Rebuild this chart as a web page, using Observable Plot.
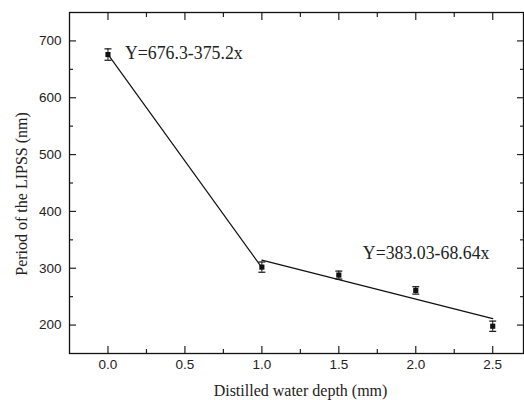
<!DOCTYPE html>
<html>
<head>
<meta charset="utf-8">
<script src="https://cdn.jsdelivr.net/npm/d3@7"></script>
<script src="https://cdn.jsdelivr.net/npm/@observablehq/plot@0.6"></script>
<style>
  html, body { margin: 0; padding: 0; background: #fff; }
</style>
</head>
<body>
<div id="chart"></div>
<script>
// Data
const depth = [0.0, 1.0, 1.5, 2.0, 2.5];
const period = [676, 302, 288, 261, 198];
const periodErr = [10, 9, 7, 6.5, 9];

// Fit lines (coefficients as printed on the chart)
const fit1 = {a: 676.3, b: -375.2, x0: 0, x1: 1};
const fit2 = {a: 383.03, b: -68.64, x0: 1, x1: 2.5};
const fit1Label = "Y=676.3-375.2x";
const fit2Label = "Y=383.03-68.64x";

const xMajor = [0, 0.5, 1, 1.5, 2, 2.5];
const xMinor = [0.25, 0.75, 1.25, 1.75, 2.25];
const yMajor = [200, 300, 400, 500, 600, 700];
const yMinor = [250, 350, 450, 550, 650];

const xLabel = "Distilled water depth (mm)";
const yLabel = "Period of the LIPSS (nm)";

const points = depth.map((d, i) => ({x: d, y: period[i], lo: period[i] - periodErr[i], hi: period[i] + periodErr[i]}));
const line1 = [fit1.x0, fit1.x1].map(x => ({x, y: fit1.a + fit1.b * x}));
const line2 = [fit2.x0, fit2.x1].map(x => ({x, y: fit2.a + fit2.b * x}));

const cap = {draw(ctx) { ctx.moveTo(-3.5, 0); ctx.lineTo(3.5, 0); }};

const sans = "Liberation Sans, Arial, sans-serif";
const serif = "Liberation Serif, Times New Roman, serif";
const blank = () => "";

const chart = Plot.plot({
  width: 524,
  height: 400,
  marginLeft: 69,
  marginRight: 1,
  marginTop: 12,
  marginBottom: 47,
  style: {fontFamily: sans, fontSize: "13.5px", color: "#222", background: "#fff"},
  x: {domain: [-0.25, 2.7]},
  y: {domain: [150, 750]},
  marks: [
    // inward ticks on all four sides
    Plot.axisX(xMajor, {anchor: "bottom", tickSize: -7, tickFormat: blank, label: null, strokeWidth: 1.2}),
    Plot.axisX(xMinor, {anchor: "bottom", tickSize: -4, tickFormat: blank, label: null, strokeWidth: 1.2}),
    Plot.axisX(xMajor, {anchor: "top", tickSize: -7, tickFormat: blank, label: null, strokeWidth: 1.2}),
    Plot.axisX(xMinor, {anchor: "top", tickSize: -4, tickFormat: blank, label: null, strokeWidth: 1.2}),
    Plot.axisY(yMajor, {anchor: "left", tickSize: -7, tickFormat: blank, label: null, strokeWidth: 1.2}),
    Plot.axisY(yMinor, {anchor: "left", tickSize: -4, tickFormat: blank, label: null, strokeWidth: 1.2}),
    Plot.axisY(yMajor, {anchor: "right", tickSize: -7, tickFormat: blank, label: null, strokeWidth: 1.2}),
    Plot.axisY(yMinor, {anchor: "right", tickSize: -4, tickFormat: blank, label: null, strokeWidth: 1.2}),
    // tick labels
    Plot.axisX(xMajor, {anchor: "bottom", tickSize: 0, tickPadding: 6, tickFormat: d3.format(".1f"), label: null, fill: "#222"}),
    Plot.axisY(yMajor, {anchor: "left", tickSize: 0, tickPadding: 8, tickFormat: d3.format("d"), label: null, fill: "#222"}),
    Plot.frame({stroke: "#111", strokeWidth: 1.3}),
    // axis titles
    Plot.text([xLabel], {frameAnchor: "bottom", text: d => d, dy: 37, dx: 4, textAnchor: "middle", lineAnchor: "middle", fontFamily: serif, fontSize: 16, fill: "#222"}),
    Plot.text([yLabel], {frameAnchor: "left", text: d => d, rotate: -90, dx: -48, dy: 11, textAnchor: "middle", lineAnchor: "middle", fontFamily: serif, fontSize: 16, fill: "#222"}),
    // fit lines
    Plot.line(line1, {x: "x", y: "y", stroke: "#111", strokeWidth: 1.2}),
    Plot.line(line2, {x: "x", y: "y", stroke: "#111", strokeWidth: 1.2}),
    // error bars
    Plot.ruleX(points, {x: "x", y1: "lo", y2: "hi", stroke: "#111", strokeWidth: 1}),
    Plot.dot(points, {x: "x", y: "lo", symbol: cap, stroke: "#111", strokeWidth: 1.2, fill: "none"}),
    Plot.dot(points, {x: "x", y: "hi", symbol: cap, stroke: "#111", strokeWidth: 1.2, fill: "none"}),
    Plot.dot(points, {x: "x", y: "y", symbol: "square", r: 2.9, fill: "#111", stroke: null}),
    // equations, anchored to the fit lines
    Plot.text([line1[0]], {x: "x", y: "y", text: () => fit1Label, textAnchor: "start", dx: 17, dy: -1, fontFamily: serif, fontSize: 17.8, fill: "#222"}),
    Plot.text([{x: 1.5, y: fit2.a + fit2.b * 1.5}], {x: "x", y: "y", text: () => fit2Label, textAnchor: "start", dx: 24, dy: -26, fontFamily: serif, fontSize: 17.8, fill: "#222"})
  ]
});
document.getElementById("chart").appendChild(chart);
</script>
</body>
</html>
